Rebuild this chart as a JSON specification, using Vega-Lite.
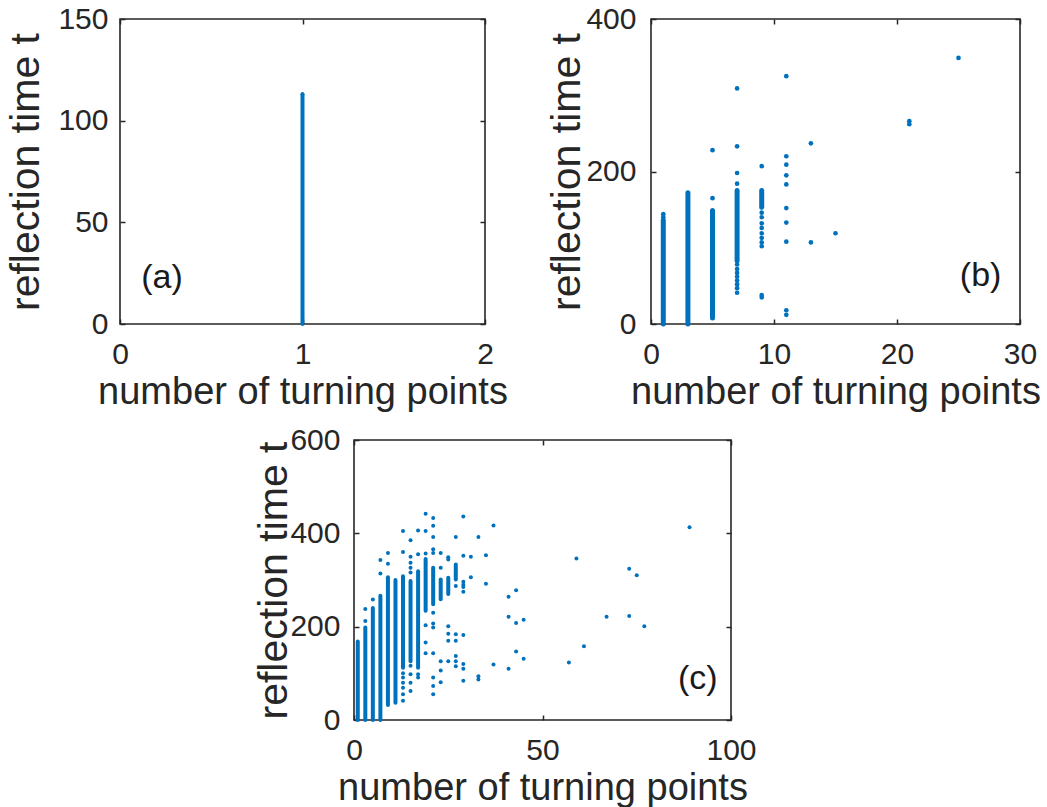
{
  "$schema": "https://vega.github.io/schema/vega-lite/v6.json",
  "background": "white",
  "padding": {"left": 5, "top": 3, "right": 0, "bottom": 3},
  "datasets": {
    "seg": [
      {"panel": "a", "x": 1, "y0": 0, "y1": 113},
      {"panel": "b", "x": 1, "y0": 0, "y1": 136},
      {"panel": "b", "x": 3, "y0": 0, "y1": 172},
      {"panel": "b", "x": 5, "y0": 8, "y1": 149},
      {"panel": "b", "x": 7, "y0": 83, "y1": 175},
      {"panel": "b", "x": 9, "y0": 153, "y1": 175},
      {"panel": "c", "x": 1, "y0": 0, "y1": 168},
      {"panel": "c", "x": 3, "y0": 0, "y1": 198},
      {"panel": "c", "x": 5, "y0": 0, "y1": 240},
      {"panel": "c", "x": 7, "y0": 0, "y1": 266},
      {"panel": "c", "x": 9, "y0": 32, "y1": 306},
      {"panel": "c", "x": 11, "y0": 37, "y1": 300},
      {"panel": "c", "x": 13, "y0": 112, "y1": 308},
      {"panel": "c", "x": 15, "y0": 126, "y1": 298},
      {"panel": "c", "x": 17, "y0": 112, "y1": 319},
      {"panel": "c", "x": 19, "y0": 234, "y1": 345},
      {"panel": "c", "x": 21, "y0": 248, "y1": 326},
      {"panel": "c", "x": 23, "y0": 259, "y1": 301},
      {"panel": "c", "x": 25, "y0": 270, "y1": 305},
      {"panel": "c", "x": 27, "y0": 301, "y1": 333}
    ],
    "pts": [
      {"panel": "a", "x": 1, "t": 113},
      {"panel": "b", "x": 1, "t": 140}, {"panel": "b", "x": 1, "t": 144},
      {"panel": "b", "x": 5, "t": 165}, {"panel": "b", "x": 5, "t": 228},
      {"panel": "b", "x": 7, "t": 184}, {"panel": "b", "x": 7, "t": 198}, {"panel": "b", "x": 7, "t": 233}, {"panel": "b", "x": 7, "t": 309},
      {"panel": "b", "x": 7, "t": 41}, {"panel": "b", "x": 7, "t": 47}, {"panel": "b", "x": 7, "t": 52}, {"panel": "b", "x": 7, "t": 57},
      {"panel": "b", "x": 7, "t": 62}, {"panel": "b", "x": 7, "t": 67}, {"panel": "b", "x": 7, "t": 72}, {"panel": "b", "x": 7, "t": 78},
      {"panel": "b", "x": 9, "t": 207}, {"panel": "b", "x": 9, "t": 146}, {"panel": "b", "x": 9, "t": 140}, {"panel": "b", "x": 9, "t": 132},
      {"panel": "b", "x": 9, "t": 126}, {"panel": "b", "x": 9, "t": 119}, {"panel": "b", "x": 9, "t": 113}, {"panel": "b", "x": 9, "t": 107},
      {"panel": "b", "x": 9, "t": 102}, {"panel": "b", "x": 9, "t": 38}, {"panel": "b", "x": 9, "t": 35},
      {"panel": "b", "x": 11, "t": 325}, {"panel": "b", "x": 11, "t": 220}, {"panel": "b", "x": 11, "t": 209}, {"panel": "b", "x": 11, "t": 195},
      {"panel": "b", "x": 11, "t": 183}, {"panel": "b", "x": 11, "t": 152}, {"panel": "b", "x": 11, "t": 133}, {"panel": "b", "x": 11, "t": 108},
      {"panel": "b", "x": 11, "t": 18}, {"panel": "b", "x": 11, "t": 12},
      {"panel": "b", "x": 13, "t": 237}, {"panel": "b", "x": 13, "t": 107},
      {"panel": "b", "x": 15, "t": 119},
      {"panel": "b", "x": 21, "t": 266}, {"panel": "b", "x": 21, "t": 262},
      {"panel": "b", "x": 25, "t": 349},
      {"panel": "c", "x": 3, "t": 212}, {"panel": "c", "x": 3, "t": 238},
      {"panel": "c", "x": 5, "t": 258},
      {"panel": "c", "x": 7, "t": 314}, {"panel": "c", "x": 7, "t": 343},
      {"panel": "c", "x": 9, "t": 335}, {"panel": "c", "x": 9, "t": 358},
      {"panel": "c", "x": 13, "t": 405}, {"panel": "c", "x": 13, "t": 360}, {"panel": "c", "x": 13, "t": 100}, {"panel": "c", "x": 13, "t": 91},
      {"panel": "c", "x": 13, "t": 80}, {"panel": "c", "x": 13, "t": 69}, {"panel": "c", "x": 13, "t": 55}, {"panel": "c", "x": 13, "t": 41},
      {"panel": "c", "x": 15, "t": 385}, {"panel": "c", "x": 15, "t": 350}, {"panel": "c", "x": 15, "t": 337}, {"panel": "c", "x": 15, "t": 326},
      {"panel": "c", "x": 15, "t": 316}, {"panel": "c", "x": 15, "t": 116}, {"panel": "c", "x": 15, "t": 98}, {"panel": "c", "x": 15, "t": 80},
      {"panel": "c", "x": 15, "t": 62},
      {"panel": "c", "x": 17, "t": 406}, {"panel": "c", "x": 17, "t": 355}, {"panel": "c", "x": 17, "t": 98}, {"panel": "c", "x": 17, "t": 91},
      {"panel": "c", "x": 19, "t": 442}, {"panel": "c", "x": 19, "t": 405}, {"panel": "c", "x": 19, "t": 357}, {"panel": "c", "x": 19, "t": 203},
      {"panel": "c", "x": 19, "t": 166}, {"panel": "c", "x": 19, "t": 143},
      {"panel": "c", "x": 21, "t": 433}, {"panel": "c", "x": 21, "t": 416}, {"panel": "c", "x": 21, "t": 392}, {"panel": "c", "x": 21, "t": 366},
      {"panel": "c", "x": 21, "t": 358}, {"panel": "c", "x": 21, "t": 230}, {"panel": "c", "x": 21, "t": 207}, {"panel": "c", "x": 21, "t": 198},
      {"panel": "c", "x": 21, "t": 143}, {"panel": "c", "x": 21, "t": 91}, {"panel": "c", "x": 21, "t": 73}, {"panel": "c", "x": 21, "t": 55},
      {"panel": "c", "x": 23, "t": 358}, {"panel": "c", "x": 23, "t": 326}, {"panel": "c", "x": 23, "t": 126}, {"panel": "c", "x": 23, "t": 106},
      {"panel": "c", "x": 23, "t": 81},
      {"panel": "c", "x": 25, "t": 349}, {"panel": "c", "x": 25, "t": 344}, {"panel": "c", "x": 25, "t": 201}, {"panel": "c", "x": 25, "t": 185},
      {"panel": "c", "x": 25, "t": 170}, {"panel": "c", "x": 25, "t": 126},
      {"panel": "c", "x": 27, "t": 392}, {"panel": "c", "x": 27, "t": 287}, {"panel": "c", "x": 27, "t": 184}, {"panel": "c", "x": 27, "t": 170},
      {"panel": "c", "x": 27, "t": 137}, {"panel": "c", "x": 27, "t": 126}, {"panel": "c", "x": 27, "t": 115},
      {"panel": "c", "x": 29, "t": 436}, {"panel": "c", "x": 29, "t": 352}, {"panel": "c", "x": 29, "t": 296}, {"panel": "c", "x": 29, "t": 290},
      {"panel": "c", "x": 29, "t": 285}, {"panel": "c", "x": 29, "t": 275}, {"panel": "c", "x": 29, "t": 182}, {"panel": "c", "x": 29, "t": 120},
      {"panel": "c", "x": 29, "t": 110}, {"panel": "c", "x": 29, "t": 84},
      {"panel": "c", "x": 31, "t": 350}, {"panel": "c", "x": 31, "t": 306},
      {"panel": "c", "x": 33, "t": 392}, {"panel": "c", "x": 33, "t": 94}, {"panel": "c", "x": 33, "t": 87},
      {"panel": "c", "x": 35, "t": 353}, {"panel": "c", "x": 35, "t": 292},
      {"panel": "c", "x": 37, "t": 417}, {"panel": "c", "x": 37, "t": 119},
      {"panel": "c", "x": 41, "t": 264}, {"panel": "c", "x": 41, "t": 221}, {"panel": "c", "x": 41, "t": 110},
      {"panel": "c", "x": 43, "t": 278}, {"panel": "c", "x": 43, "t": 208}, {"panel": "c", "x": 43, "t": 147},
      {"panel": "c", "x": 45, "t": 215}, {"panel": "c", "x": 45, "t": 131},
      {"panel": "c", "x": 57, "t": 123},
      {"panel": "c", "x": 59, "t": 346},
      {"panel": "c", "x": 61, "t": 158},
      {"panel": "c", "x": 67, "t": 221},
      {"panel": "c", "x": 73, "t": 324}, {"panel": "c", "x": 73, "t": 223},
      {"panel": "c", "x": 75, "t": 310},
      {"panel": "c", "x": 77, "t": 201},
      {"panel": "c", "x": 89, "t": 413}
    ]
  },
  "config": {
    "view": {"stroke": "#262626", "strokeWidth": 1.6},
    "axis": {
      "domain": false, "grid": false,
      "tickColor": "#262626", "tickSize": -5, "tickWidth": 1.5,
      "labelFont": "Liberation Sans", "labelFontSize": 30, "labelColor": "#262626",
      "labelFlush": false, "labelOverlap": false, "format": "d",
      "titleFont": "Liberation Sans", "titleFontSize": 38, "titleFontWeight": "normal", "titleColor": "#262626"
    }
  },
  "spacing": 12,
  "vconcat": [
    {
      "spacing": 37,
      "hconcat": [
        {
          "width": 365, "height": 305,
          "layer": [
            {
              "data": {"name": "seg"},
              "transform": [{"filter": "datum.panel == 'a'"}],
              "mark": {"type": "rule", "color": "#0072BD", "strokeWidth": 4, "strokeCap": "round"},
              "encoding": {
                "x": {"field": "x", "type": "quantitative", "scale": {"domain": [0, 2]},
                      "axis": {"values": [0, 1, 2], "title": "number of turning points", "labelPadding": 20, "titlePadding": 4}},
                "y": {"field": "y0", "type": "quantitative", "scale": {"domain": [0, 150]},
                      "axis": {"values": [0, 50, 100, 150], "title": "reflection time t", "labelPadding": 17, "titlePadding": 10, "titleFontSize": 41}},
                "y2": {"field": "y1"}
              }
            },
            {
              "data": {"name": "pts"},
              "transform": [{"filter": "datum.panel == 'a'"}],
              "mark": {"type": "circle", "color": "#0072BD", "size": 14, "opacity": 1},
              "encoding": {
                "x": {"field": "x", "type": "quantitative", "scale": {"domain": [0, 2]},
                      "axis": {"orient": "top", "values": [0, 1, 2], "labels": false, "title": null}},
                "y": {"field": "t", "type": "quantitative", "scale": {"domain": [0, 150]},
                      "axis": {"orient": "right", "values": [0, 50, 100, 150], "labels": false, "title": null}}
              }
            },
            {
              "data": {"values": [{"label": "(a)"}]},
              "mark": {"type": "text", "font": "Liberation Sans", "fontSize": 34, "color": "#1a1a1a", "align": "center", "baseline": "middle"},
              "encoding": {"text": {"field": "label"},
                           "x": {"datum": 0.23, "type": "quantitative", "scale": {"domain": [0, 2]}, "axis": null},
                           "y": {"datum": 22.6, "type": "quantitative", "scale": {"domain": [0, 150]}, "axis": null}}
            }
          ],
          "resolve": {"axis": {"x": "independent", "y": "independent"}}
        },
        {
          "width": 369, "height": 305,
          "layer": [
            {
              "data": {"name": "seg"},
              "transform": [{"filter": "datum.panel == 'b'"}],
              "mark": {"type": "rule", "color": "#0072BD", "strokeWidth": 5, "strokeCap": "round"},
              "encoding": {
                "x": {"field": "x", "type": "quantitative", "scale": {"domain": [0, 30]},
                      "axis": {"values": [0, 10, 20, 30], "title": "number of turning points", "labelPadding": 20, "titlePadding": 4}},
                "y": {"field": "y0", "type": "quantitative", "scale": {"domain": [0, 400]},
                      "axis": {"values": [0, 200, 400], "title": "reflection time t", "labelPadding": 20, "titlePadding": -3, "titleFontSize": 41}},
                "y2": {"field": "y1"}
              }
            },
            {
              "data": {"name": "pts"},
              "transform": [{"filter": "datum.panel == 'b'"}],
              "mark": {"type": "circle", "color": "#0072BD", "size": 22, "opacity": 1},
              "encoding": {
                "x": {"field": "x", "type": "quantitative", "scale": {"domain": [0, 30]},
                      "axis": {"orient": "top", "values": [0, 10, 20, 30], "labels": false, "title": null}},
                "y": {"field": "t", "type": "quantitative", "scale": {"domain": [0, 400]},
                      "axis": {"orient": "right", "values": [0, 200, 400], "labels": false, "title": null}}
              }
            },
            {
              "data": {"values": [{"label": "(b)"}]},
              "mark": {"type": "text", "font": "Liberation Sans", "fontSize": 34, "color": "#1a1a1a", "align": "center", "baseline": "middle"},
              "encoding": {"text": {"field": "label"},
                           "x": {"datum": 26.8, "type": "quantitative", "scale": {"domain": [0, 30]}, "axis": null},
                           "y": {"datum": 63, "type": "quantitative", "scale": {"domain": [0, 400]}, "axis": null}}
            }
          ],
          "resolve": {"axis": {"x": "independent", "y": "independent"}}
        }
      ]
    },
    {
      "spacing": 0,
      "hconcat": [
        {
          "width": 133, "height": 10,
          "view": {"stroke": null},
          "data": {"values": [{"k": 0}]},
          "mark": {"type": "point", "opacity": 0},
          "encoding": {}
        },
        {
          "width": 377, "height": 280,
          "layer": [
            {
              "data": {"name": "seg"},
              "transform": [{"filter": "datum.panel == 'c'"}],
              "mark": {"type": "rule", "color": "#0072BD", "strokeWidth": 4, "strokeCap": "round"},
              "encoding": {
                "x": {"field": "x", "type": "quantitative", "scale": {"domain": [0, 100]},
                      "axis": {"values": [0, 50, 100], "title": "number of turning points", "labelPadding": 20, "titlePadding": 4}},
                "y": {"field": "y0", "type": "quantitative", "scale": {"domain": [0, 600]},
                      "axis": {"values": [0, 200, 400, 600], "title": "reflection time t", "labelPadding": 19, "titlePadding": -6, "titleFontSize": 41}},
                "y2": {"field": "y1"}
              }
            },
            {
              "data": {"name": "pts"},
              "transform": [{"filter": "datum.panel == 'c'"}],
              "mark": {"type": "circle", "color": "#0072BD", "size": 16, "opacity": 1},
              "encoding": {
                "x": {"field": "x", "type": "quantitative", "scale": {"domain": [0, 100]},
                      "axis": {"orient": "top", "values": [0, 50, 100], "labels": false, "title": null}},
                "y": {"field": "t", "type": "quantitative", "scale": {"domain": [0, 600]},
                      "axis": {"orient": "right", "values": [0, 200, 400, 600], "labels": false, "title": null}}
              }
            },
            {
              "data": {"values": [{"label": "(c)"}]},
              "mark": {"type": "text", "font": "Liberation Sans", "fontSize": 34, "color": "#1a1a1a", "align": "center", "baseline": "middle"},
              "encoding": {"text": {"field": "label"},
                           "x": {"datum": 91.2, "type": "quantitative", "scale": {"domain": [0, 100]}, "axis": null},
                           "y": {"datum": 88, "type": "quantitative", "scale": {"domain": [0, 600]}, "axis": null}}
            }
          ],
          "resolve": {"axis": {"x": "independent", "y": "independent"}}
        }
      ]
    }
  ]
}
